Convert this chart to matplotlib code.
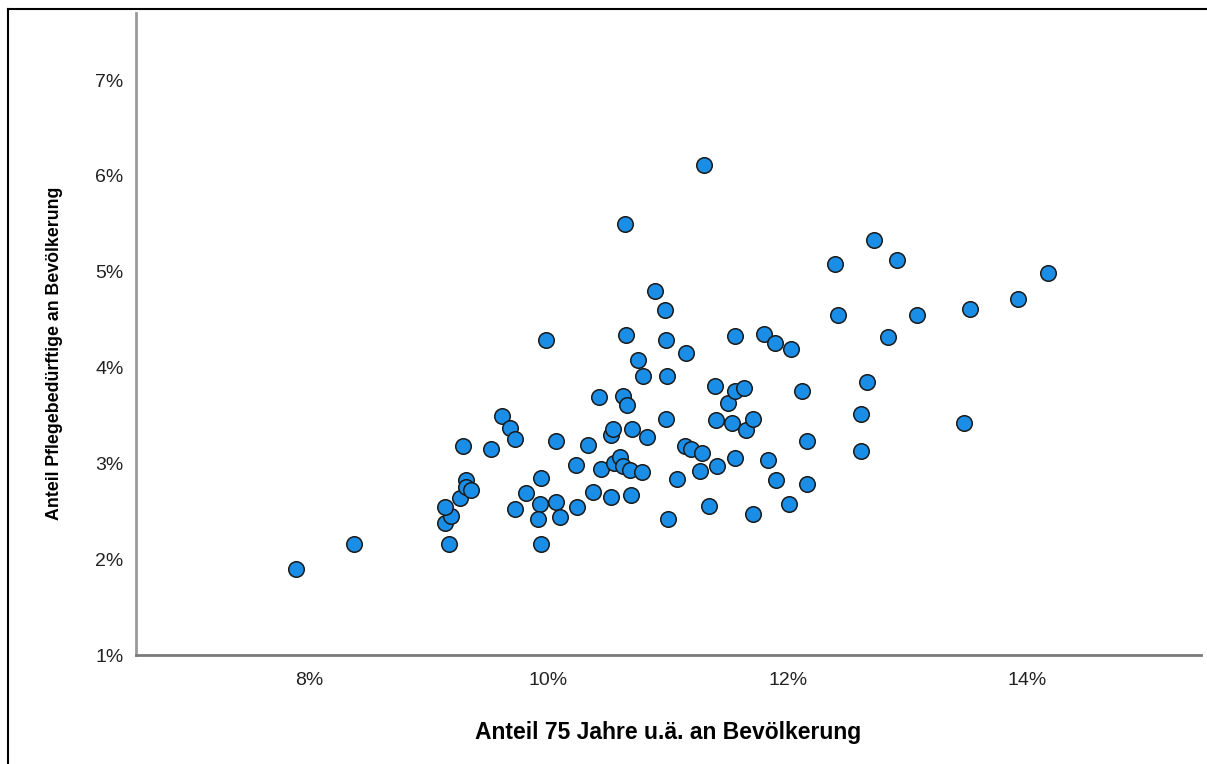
import matplotlib.pyplot as plt
from matplotlib.lines import Line2D
from matplotlib.ticker import FuncFormatter

# Anteil 75 Jahre u.ä. an Bevölkerung (%)
anteil_75 = [
    7.89, 8.38, 9.17, 9.14, 9.19, 9.14, 9.26, 9.31, 9.31, 9.35,
    9.29, 9.52, 9.61, 9.68, 9.72, 9.94, 9.81, 9.72, 9.93, 9.91,
    9.94, 9.98, 10.06, 10.06, 10.10, 10.23, 10.24, 10.33, 10.37, 10.42,
    10.44, 10.52, 10.52, 10.54, 10.55, 10.60, 10.62, 10.62, 10.65, 10.66,
    10.68, 10.69, 10.70, 10.75, 10.78, 10.79, 10.82, 10.89, 10.97, 10.98,
    10.99, 10.98, 11.00, 11.07, 11.14, 11.19, 11.15, 11.27, 11.28, 11.34,
    11.39, 11.40, 11.41, 11.50, 11.53, 11.56, 11.56, 11.56, 11.63, 11.65,
    11.71, 11.71, 11.80, 11.83, 11.89, 11.90, 12.01, 12.03, 12.12, 12.16,
    12.16, 11.30, 10.64, 12.39, 12.72, 12.91, 12.42, 12.84, 13.08, 13.52,
    13.92, 14.17, 12.66, 12.61, 12.61, 13.47,
]

# Anteil Pflegebedürftige an Bevölkerung (%)
anteil_pflege = [
    1.90, 2.16, 2.16, 2.38, 2.45, 2.54, 2.64, 2.83, 2.75, 2.72,
    3.18, 3.15, 3.49, 3.37, 3.25, 2.85, 2.69, 2.52, 2.58, 2.42,
    2.16, 4.29, 3.23, 2.60, 2.44, 2.98, 2.54, 3.19, 2.70, 3.69,
    2.94, 2.65, 3.30, 3.36, 3.00, 3.07, 2.97, 3.70, 4.34, 3.61,
    2.93, 2.67, 3.36, 4.08, 2.91, 3.91, 3.28, 4.80, 4.60, 4.29,
    3.91, 3.46, 2.42, 2.84, 3.18, 3.15, 4.15, 2.92, 3.11, 2.55,
    3.81, 3.45, 2.97, 3.63, 3.42, 3.75, 4.33, 3.06, 3.79, 3.35,
    2.47, 3.46, 4.35, 3.03, 4.26, 2.83, 2.58, 4.19, 3.75, 3.23,
    2.78, 6.11, 5.50, 5.08, 5.33, 5.12, 4.55, 4.32, 4.55, 4.61,
    4.72, 4.99, 3.85, 3.51, 3.13, 3.42,
]

x_ticks = [8, 10, 12, 14]
y_ticks = [1, 2, 3, 4, 5, 6, 7]

plt.rcParams['font.family'] = ['Liberation Sans', 'DejaVu Sans']

fig = plt.figure(figsize=(12.07, 7.64), dpi=100)
ax = fig.add_axes([136 / 1207, 1 - 655 / 764, (1201 - 136) / 1207, (655 - 13) / 764])

ax.scatter(anteil_75, anteil_pflege, s=125, color='#1A8EE6',
           edgecolor='#1a1a1a', linewidth=1.1, zorder=3)

ax.set_xlim(6.556, 15.45)
ax.set_ylim(1.0, 7.70)
ax.set_xticks(x_ticks)
ax.set_yticks(y_ticks)
pct = FuncFormatter(lambda v, pos: '%d%%' % v)
ax.xaxis.set_major_formatter(pct)
ax.yaxis.set_major_formatter(pct)
ax.tick_params(length=0, labelsize=14, colors='#222222')
ax.tick_params(axis='y', pad=9)
ax.tick_params(axis='x', pad=12)

for side in ['top', 'right']:
    ax.spines[side].set_visible(False)
ax.spines['left'].set_color('#9a9a9a')
ax.spines['bottom'].set_color('#7a7a7a')
ax.spines['left'].set_linewidth(2)
ax.spines['bottom'].set_linewidth(2)

ax.set_xlabel('Anteil 75 Jahre u.ä. an Bevölkerung', fontsize=16.5,
              fontweight='bold')
ax.set_ylabel('Anteil Pflegebedürftige an Bevölkerung', fontsize=12.8,
              fontweight='bold')
ax.xaxis.set_label_coords(0.5, -0.103)
ax.yaxis.set_label_coords(-0.069, 0.47)

# frame visible on the left and top edge of the picture
fig.add_artist(Line2D([8 / 1207, 8 / 1207], [0, 1 - 9 / 764], color='black', lw=1.5))
fig.add_artist(Line2D([8 / 1207, 1], [1 - 9 / 764, 1 - 9 / 764], color='black', lw=1.5))

fig.savefig('out.png', dpi=100)
